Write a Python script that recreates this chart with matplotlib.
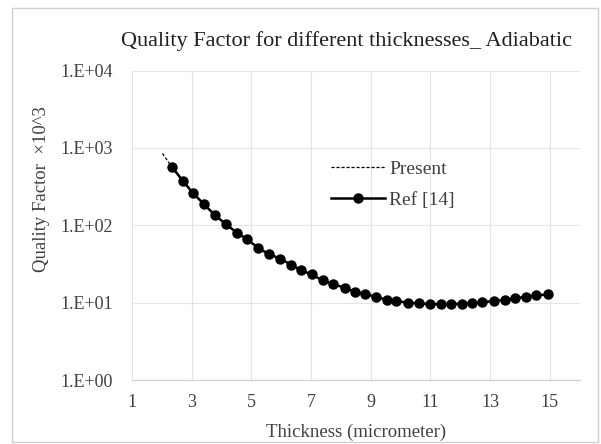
import math

import matplotlib
matplotlib.use("Agg")
import matplotlib.pyplot as plt
from matplotlib.patches import Rectangle
from matplotlib.ticker import FixedLocator, FuncFormatter

plt.rcParams["font.family"] = ["Liberation Serif", "DejaVu Serif"]

# Ref [14] values
ref_x = [2.33, 2.70, 3.05, 3.41, 3.78, 4.14, 4.52, 4.86, 5.23, 5.58,
         5.97, 6.34, 6.67, 7.02, 7.39, 7.75, 8.12, 8.46, 8.82, 9.18,
         9.53, 9.86, 10.25, 10.62, 10.98, 11.35, 11.68, 12.04, 12.38, 12.74,
         13.13, 13.49, 13.83, 14.19, 14.54, 14.94]
ref_y = [573, 378, 259, 188, 135, 104, 80, 66, 51, 42.5,
         37.0, 30.8, 26.2, 23.2, 19.4, 17.4, 15.6, 13.9, 12.9, 11.9,
         10.9, 10.5, 10.0, 9.8, 9.6, 9.6, 9.6, 9.7, 9.9, 10.2,
         10.5, 10.9, 11.4, 11.9, 12.4, 12.8]

# Present (dashed) curve
present_x = [2.02, 2.33, 2.70, 3.05, 3.41, 3.78, 4.14, 4.52, 4.86, 5.23,
             5.58, 5.97, 6.67, 7.39, 8.12, 8.82, 9.53, 10.25, 10.98, 11.68,
             12.38, 13.13, 13.83, 14.54, 14.94]
present_y = [850, 573, 378, 259, 188, 135, 104, 80, 66, 51,
             42.5, 37.0, 26.2, 19.4, 15.6, 12.9, 10.9, 10.0, 9.6, 9.6,
             9.9, 10.5, 11.4, 12.4, 12.8]

x_ticks = [1, 3, 5, 7, 9, 11, 13, 15]
y_ticks = [1, 10, 100, 1000, 10000]

fig = plt.figure(figsize=(6.01, 4.44), dpi=100)
fig.patches.append(Rectangle((0.02, 0.005), 0.975, 0.978, transform=fig.transFigure,
                             fill=False, edgecolor="#d0d0d0", linewidth=1.0))
ax = fig.add_axes([0.2196, 0.144, 0.745, 0.697])

ax.plot(ref_x, ref_y, color="black", linewidth=1.8, marker="o",
        markersize=6.5, label="Ref [14]", zorder=3)
ax.plot(present_x, present_y, color="black", linewidth=0.9,
        linestyle=(0, (2.5, 1.5)), label="Present", zorder=4)

ax.set_yscale("log")
ax.set_xlim(1, 16)
ax.set_ylim(1, 10000)
ax.xaxis.set_major_locator(FixedLocator(x_ticks))
ax.yaxis.set_major_locator(FixedLocator(y_ticks))
ax.yaxis.set_minor_locator(FixedLocator([]))
ax.yaxis.set_major_formatter(FuncFormatter(
    lambda v, p: "1.E+%02d" % round(math.log10(v))))
ax.tick_params(length=0, labelsize=13, colors="#404040")
ax.tick_params(axis="x", pad=10)
ax.tick_params(axis="y", pad=14)
ax.grid(True, color="#e4e4e4", linewidth=0.8)
for s in ax.spines.values():
    s.set_visible(False)
ax.spines["bottom"].set_visible(True)
ax.spines["bottom"].set_color("#d0d0d0")

ax.set_title("Quality Factor for different thicknesses_ Adiabatic",
             fontsize=16, color="#202020", pad=18, x=0.478)
ax.set_xlabel("Thickness (micrometer)", fontsize=13.5, color="#404040", labelpad=9)
ax.set_ylabel("Quality Factor  \u00d710^3", fontsize=13.5, color="#404040")
ax.yaxis.set_label_coords(-0.183, 0.618)

handles, labels = ax.get_legend_handles_labels()
ax.legend(handles[::-1], labels[::-1], loc="upper left",
          bbox_to_anchor=(0.405, 0.768), frameon=False, fontsize=14,
          handlelength=2.8, handletextpad=0.2, labelspacing=0.7,
          labelcolor="#404040")

fig.savefig("out.png", dpi=100)
